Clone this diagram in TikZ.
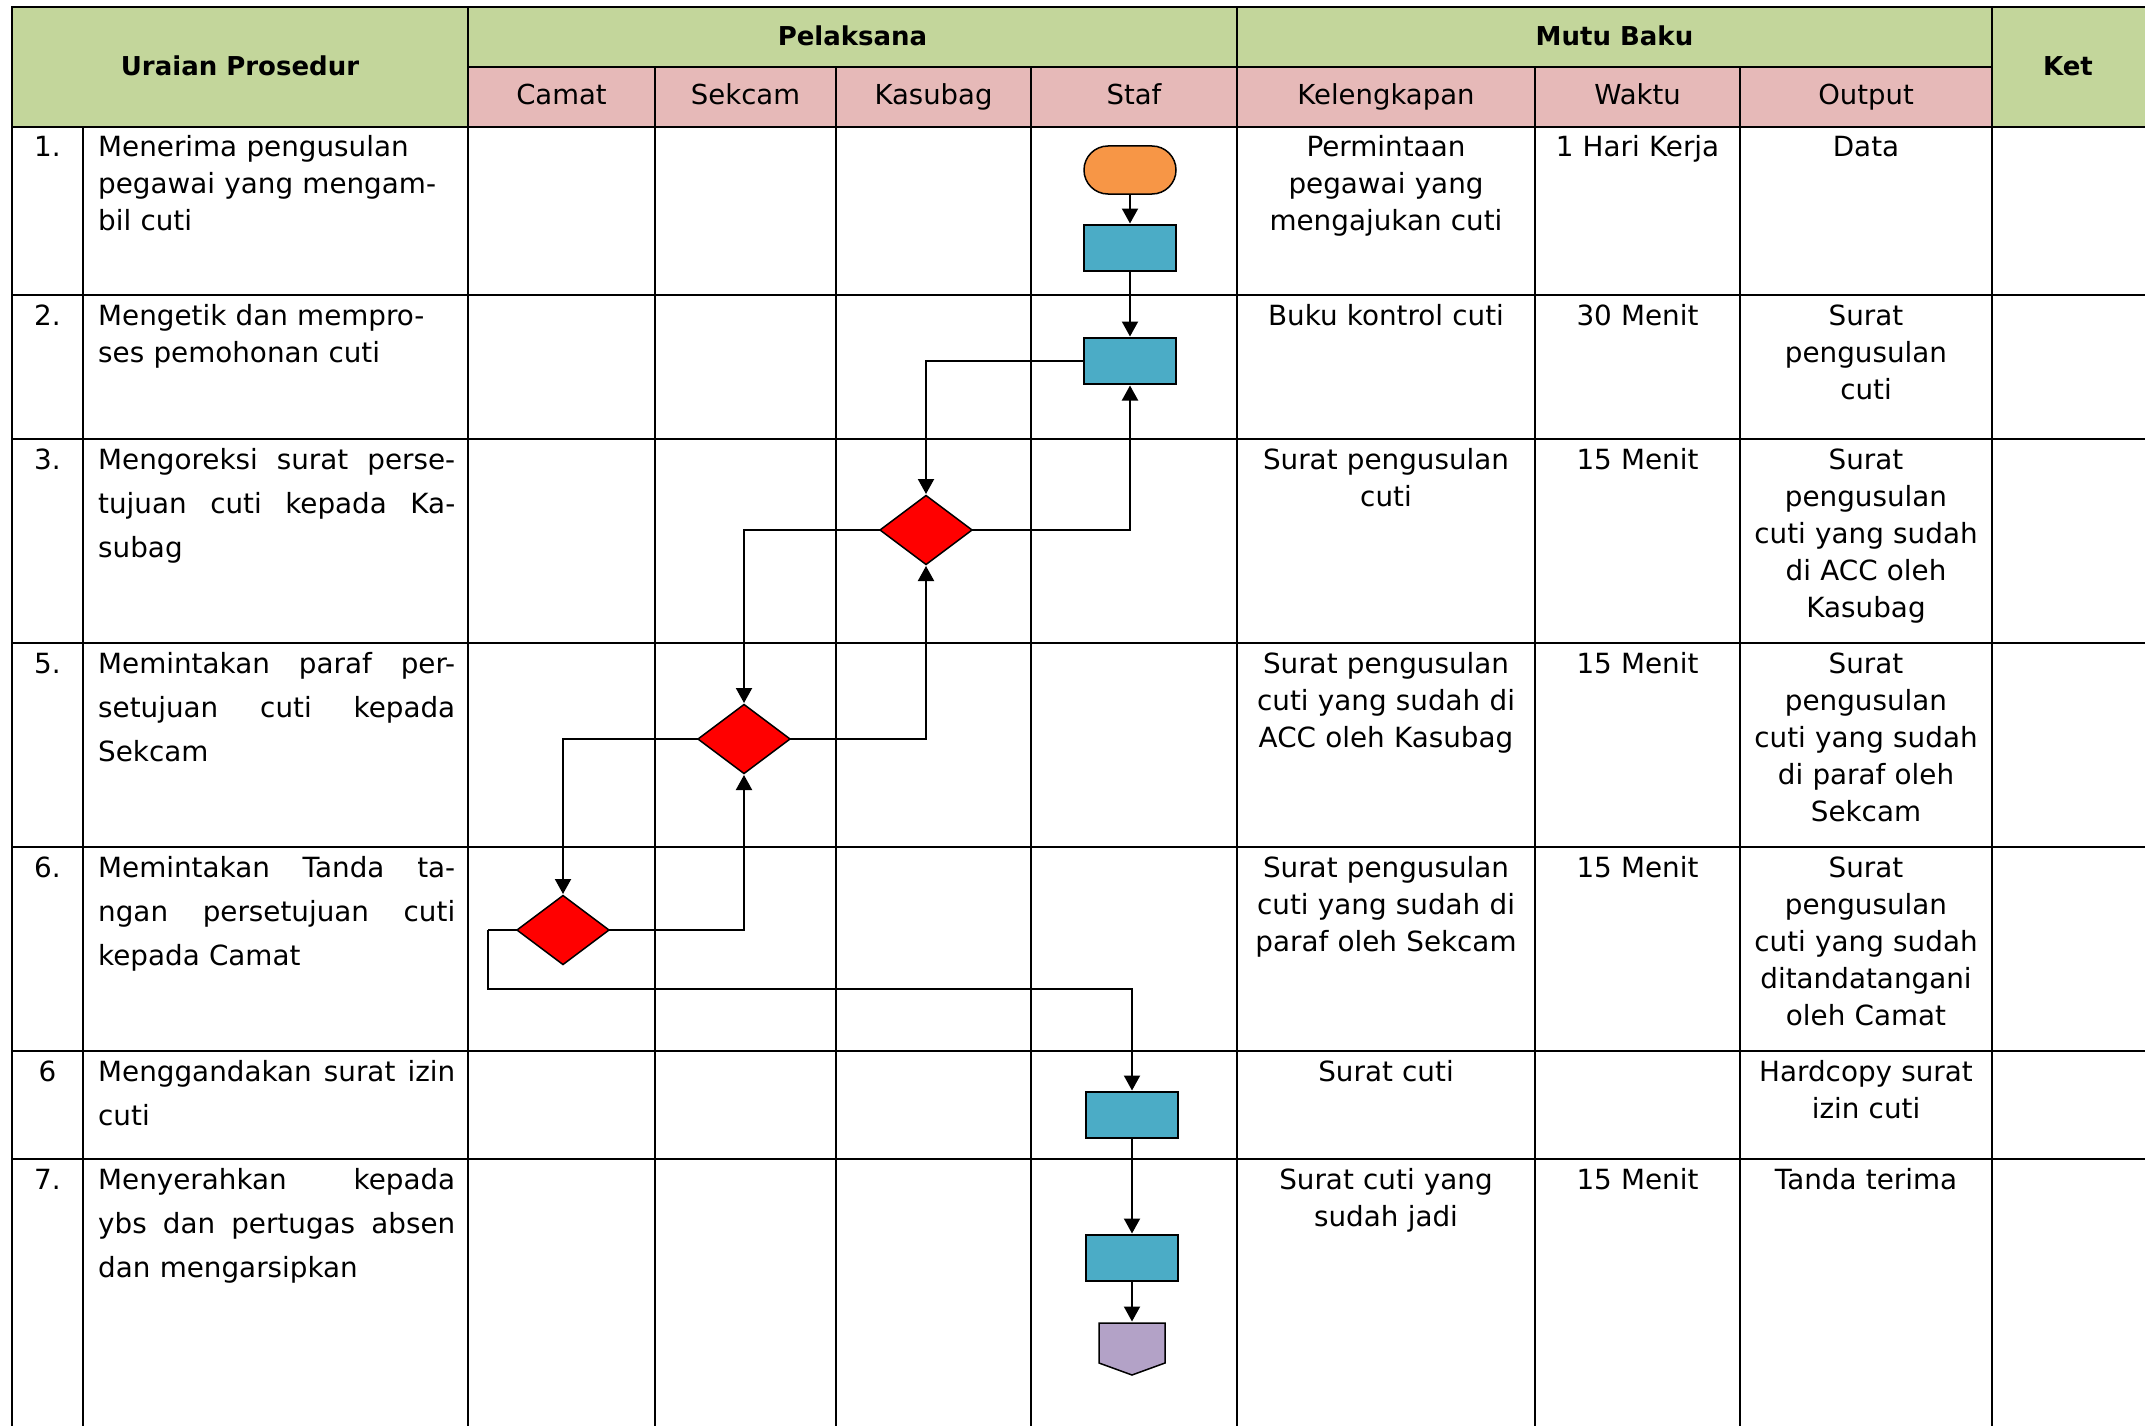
\documentclass[tikz,border=0pt]{standalone}
\usepackage{fontspec}
\setmainfont{DejaVu Sans}
\usetikzlibrary{shapes.geometric,arrows.meta}
\definecolor{hdrgreen}{HTML}{C3D69B}
\definecolor{hdrpink}{HTML}{E6B9B8}
\definecolor{termorange}{HTML}{F79646}
\definecolor{procteal}{HTML}{4BACC6}
\definecolor{offlilac}{HTML}{B3A2C7}
% a line stretched over the full width of the description cell
\newcommand{\jl}[1]{\leavevmode\hbox to 357pt{\spaceskip=0.32em plus 1fil\relax #1}}
\begin{document}
\begin{tikzpicture}[x=1pt,y=-1pt,
  grid/.style={line width=2pt,line cap=rect},
  hbold/.style={font=\fontsize{26}{30}\selectfont\bfseries,inner sep=0pt,anchor=base},
  hreg/.style={font=\fontsize{27.5}{30}\selectfont,inner sep=0pt,anchor=base},
  numtxt/.style={font=\fontsize{27.8}{37}\selectfont,inner sep=0pt,anchor=base},
  desc/.style={font=\fontsize{27.8}{37}\selectfont,inner sep=0pt,anchor=base west,text width=357pt,align=left},
  descj/.style={desc,font=\fontsize{27.8}{44}\selectfont},
  kel/.style={font=\fontsize{27.8}{37}\selectfont,inner sep=0pt,anchor=base,text width=292pt,align=center},
  wkt/.style={font=\fontsize{27.8}{37}\selectfont,inner sep=0pt,anchor=base,text width=200pt,align=center},
  outp/.style={font=\fontsize{27.8}{37}\selectfont,inner sep=0pt,anchor=base,text width=246pt,align=center},
  term/.style={draw,line width=1.5pt,fill=termorange,rounded corners=24pt,minimum width=92pt,minimum height=48pt,inner sep=0pt,outer sep=0pt},
  proc/.style={draw,line width=1.5pt,fill=procteal,minimum width=92pt,minimum height=46pt,inner sep=0pt,outer sep=0pt},
  dec/.style={draw,line width=1.5pt,fill=red,diamond,minimum width=92pt,minimum height=69pt,inner sep=0pt,outer sep=0pt},
  offpg/.style={minimum width=66pt,minimum height=52pt,inner sep=0pt,outer sep=0pt},
  flow/.style={line width=2pt,-{Triangle[length=15pt,width=16pt]},shorten >=1.5pt},
  link/.style={line width=2pt}
]
\useasboundingbox (0,0) rectangle (2145,1426);

% header fills
\fill[hdrgreen] (12,7) rectangle (468,127);
\fill[hdrgreen] (468,7) rectangle (1992,67);
\fill[hdrgreen] (1992,7) rectangle (2145,127);
\fill[hdrpink] (468,67) rectangle (1992,127);

% table rules
\foreach \yy in {7,127,295,439,643,847,1051,1159}
  \draw[grid] (12,\yy) -- (2145,\yy);
\draw[grid] (468,67) -- (1992,67);
\foreach \xx in {12,468,1237,1992}
  \draw[grid] (\xx,7) -- (\xx,1426);
\draw[grid] (83,127) -- (83,1426);
\foreach \xx in {655,836,1031,1535,1740}
  \draw[grid] (\xx,67) -- (\xx,1426);

% header texts
\node[hbold] (hUraian) at (240,76) {Uraian Prosedur};
\node[hbold] (hPel) at (852.5,46) {Pelaksana};
\node[hbold] (hMutu) at (1614.5,46) {Mutu Baku};
\node[hbold] (hKet) at (2068,76) {Ket};
\node[hreg] (hCamat) at (561.5,105) {Camat};
\node[hreg] (hSekcam) at (745.5,105) {Sekcam};
\node[hreg] (hKasubag) at (933.5,105) {Kasubag};
\node[hreg] (hStaf) at (1134,105) {Staf};
\node[hreg] (hKel) at (1386,105) {Kelengkapan};
\node[hreg] (hWaktu) at (1637.5,105) {Waktu};
\node[hreg] (hOutput) at (1866,105) {Output};

% row numbers
\node[numtxt] (n1) at (47.5,157) {1.};
\node[numtxt] (n2) at (47.5,325) {2.};
\node[numtxt] (n3) at (47.5,469) {3.};
\node[numtxt] (n5) at (47.5,673) {5.};
\node[numtxt] (n6) at (47.5,877) {6.};
\node[numtxt] (n6b) at (47.5,1081) {6};
\node[numtxt] (n7) at (47.5,1189) {7.};

% procedure descriptions
\node[desc] (u1) at (98,157) {Menerima pengusulan\\pegawai yang mengam-\\bil cuti};
\node[desc] (u2) at (98,325) {Mengetik dan mempro-\\ses pemohonan cuti};
\node[descj] (u3) at (98,469) {\jl{Mengoreksi surat perse-}\\\jl{tujuan cuti kepada Ka-}\\subag};
\node[descj] (u5) at (98,673) {\jl{Memintakan paraf per-}\\\jl{setujuan cuti kepada}\\Sekcam};
\node[descj] (u6) at (98,877) {\jl{Memintakan Tanda ta-}\\\jl{ngan persetujuan cuti}\\kepada Camat};
\node[descj] (u6b) at (98,1081) {\jl{Menggandakan surat izin}\\cuti};
\node[descj] (u7) at (98,1189) {\jl{Menyerahkan kepada}\\\jl{ybs dan pertugas absen}\\dan mengarsipkan};

% Kelengkapan
\node[kel] (k1) at (1386,157) {Permintaan\\pegawai yang\\mengajukan cuti};
\node[kel] (k2) at (1386,325) {Buku kontrol cuti};
\node[kel] (k3) at (1386,469) {Surat pengusulan\\cuti};
\node[kel] (k5) at (1386,673) {Surat pengusulan\\cuti yang sudah di\\ACC oleh Kasubag};
\node[kel] (k6) at (1386,877) {Surat pengusulan\\cuti yang sudah di\\paraf oleh Sekcam};
\node[kel] (k6b) at (1386,1081) {Surat cuti};
\node[kel] (k7) at (1386,1189) {Surat cuti yang\\sudah jadi};

% Waktu
\node[wkt] (w1) at (1637.5,157) {1 Hari Kerja};
\node[wkt] (w2) at (1637.5,325) {30 Menit};
\node[wkt] (w3) at (1637.5,469) {15 Menit};
\node[wkt] (w5) at (1637.5,673) {15 Menit};
\node[wkt] (w6) at (1637.5,877) {15 Menit};
\node[wkt] (w7) at (1637.5,1189) {15 Menit};

% Output
\node[outp] (o1) at (1866,157) {Data};
\node[outp] (o2) at (1866,325) {Surat\\pengusulan\\cuti};
\node[outp] (o3) at (1866,469) {Surat\\pengusulan\\cuti yang sudah\\di ACC oleh\\Kasubag};
\node[outp] (o5) at (1866,673) {Surat\\pengusulan\\cuti yang sudah\\di paraf oleh\\Sekcam};
\node[outp] (o6) at (1866,877) {Surat\\pengusulan\\cuti yang sudah\\ditandatangani\\oleh Camat};
\node[outp] (o6b) at (1866,1081) {Hardcopy surat\\izin cuti};
\node[outp] (o7) at (1866,1189) {Tanda terima};

% flow symbols
\node[term] (start) at (1130,170) {};
\node[proc] (p1) at (1130,248) {};
\node[proc] (p2) at (1130,361) {};
\node[dec] (d1) at (926,530) {};
\node[dec] (d2) at (744,739) {};
\node[dec] (d3) at (563,930) {};
\node[proc] (p3) at (1132,1115) {};
\node[proc] (p4) at (1132,1258) {};
\node[offpg] (off) at (1132,1349) {};
\draw[line width=1.5pt,fill=offlilac]
  (off.north west) -- (off.north east) -- (1165,1363) -- (off.south) -- (1099,1363) -- cycle;

% connectors
\coordinate (b1) at (488,930);
\coordinate (b2) at (488,989);
\draw[flow] (start) -- (p1);
\draw[flow] (p1) -- (p2);
\draw[flow] (p2.west) -| (d1.north);
\draw[flow] (d1.east) -| (p2.south);
\draw[flow] (d1.west) -| (d2.north);
\draw[flow] (d2.east) -| (d1.south);
\draw[flow] (d2.west) -| (d3.north);
\draw[flow] (d3.east) -| (d2.south);
\draw[link] (d3.west) -- (b1);
\draw[flow] (b1) -- (b2) -| (p3.north);
\draw[flow] (p3) -- (p4);
\draw[flow] (p4) -- (off);
\end{tikzpicture}
\end{document}
